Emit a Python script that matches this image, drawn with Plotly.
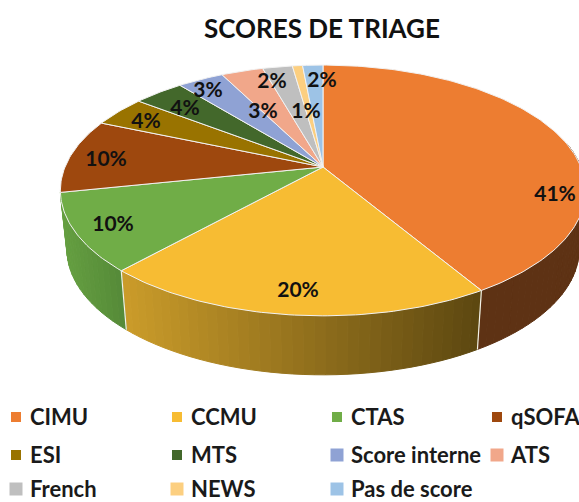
"""Scores de triage: 3D-look pie drawn with filled scatter traces."""

import numpy as np
import plotly.graph_objects as go

categories = ["CIMU", "CCMU", "CTAS", "qSOFA", "ESI", "MTS", "Score interne", "ATS", "French", "NEWS", "Pas de score"]
shares = [41.4, 20.4, 10.0, 9.6, 4.0, 3.7, 3.4, 3.1, 2.2, 0.75, 1.5]
colors = ["#ED7D31", "#F7BC33", "#70AD47", "#9E480E", "#997300", "#43682B", "#8FA2D4", "#F1A78A", "#BFBFBF", "#FCCF80", "#9DC3E6"]

# wall colour at the left and right end of each visible side
wall_left = {"CIMU": "#5E3214", "CCMU": "#CB9C2A", "CTAS": "#659F41"}
wall_right = {"CIMU": "#5E3214", "CCMU": "#5C4710", "CTAS": "#558A38"}

# label placement, legend grid
label_x = [555, 298, 113, 106, 146, 185, 208, 263, 272, 306, 322]
label_y = [193, 289, 223, 158, 120, 107, 89, 110, 80, 110, 79]
legend_x = [16, 177, 337, 497, 16, 177, 337, 497, 16, 177, 337]
legend_y = [417, 417, 417, 417, 455, 455, 455, 455, 489, 489, 489]
legend_size = [10, 10, 10, 10, 10, 10, 13, 13, 13, 13, 13]

CX, CY = 323, 167
A, B, K = 258, 121, 0.187
DEPTH = 59
TEXT_DROP = 2.5  # text traces sit a little high in Lato


def project(theta):
    # clockwise from the top, circle seen in perspective
    u, v = np.sin(theta), -np.cos(theta)
    s = 1 / (1 - K * v)
    return CX + A * u * s, CY + B * v * s


def drop(x, y):
    return CX + (x - CX) * 0.975, y + DEPTH


def mix(c1, c2, t):
    a = [int(c1[i:i + 2], 16) for i in (1, 3, 5)]
    b = [int(c2[i:i + 2], 16) for i in (1, 3, 5)]
    return "rgb(%d,%d,%d)" % tuple(round(p + (q - p) * t) for p, q in zip(a, b))


fig = go.Figure()
total = sum(shares)
edges = np.concatenate([[0], np.cumsum(shares)]) / total * 2 * np.pi

# side walls, only the front slices are visible
for name, start, end in zip(categories, edges[:-1], edges[1:]):
    if name not in wall_left:
        continue
    lo, hi = max(start, np.pi / 2 - 0.2), end
    steps = np.linspace(lo, hi, max(2, int((hi - lo) / np.radians(2)) + 1))
    x_ends = [project(t)[0] for t in steps]
    x_min, x_max = min(x_ends), max(x_ends)
    for t0, t1 in zip(steps[:-1], steps[1:]):
        x0, y0 = project(t0)
        x1, y1 = project(t1)
        x2, y2 = drop(x1, y1)
        x3, y3 = drop(x0, y0)
        shade = mix(wall_left[name], wall_right[name], ((x0 + x1) / 2 - x_min) / (x_max - x_min))
        fig.add_trace(go.Scatter(x=[x0, x1, x2, x3, x0], y=[y0, y1, y2, y3, y0], mode="lines",
                                 fill="toself", fillcolor=shade, line=dict(color=shade, width=1)))

# white seams between the visible walls
for t in edges[1:3]:
    x0, y0 = project(t)
    x1, y1 = drop(x0, y0)
    fig.add_trace(go.Scatter(x=[x0, x1], y=[y0, y1], mode="lines", line=dict(color="#F4F1E8", width=1.2)))

# top surface
for color, start, end in zip(colors, edges[:-1], edges[1:]):
    steps = np.linspace(start, end, max(3, int((end - start) / np.radians(1)) + 1))
    xs, ys = project(steps)
    fig.add_trace(go.Scatter(x=np.r_[CX, xs, CX], y=np.r_[CY, ys, CY], mode="lines", fill="toself",
                             fillcolor=color, line=dict(color="#F2F2F2", width=1)))

fig.add_trace(go.Scatter(
    x=label_x, y=[y + TEXT_DROP for y in label_y], mode="text", text=[f"{v:.0f}%" for v in shares],
    textfont=dict(family="Lato", size=21, color="#111111", weight="bold"),
))

# legend
fig.add_trace(go.Scatter(
    x=legend_x, y=legend_y, mode="markers",
    marker=dict(symbol="square", size=legend_size, color=colors, opacity=1, line=dict(width=0)),
))
fig.add_trace(go.Scatter(
    x=[x + 14 for x in legend_x], y=[y + TEXT_DROP for y in legend_y], mode="text", text=categories,
    textposition="middle right",
    textfont=dict(family="Lato", size=22, color="#1A1A1A", weight="bold"),
))

fig.add_annotation(text="<b>SCORES DE TRIAGE</b>", x=322, y=28, xref="x", yref="y", showarrow=False,
                   font=dict(family="Lato", size=26, color="#111111"))

fig.update_layout(
    width=579, height=502, margin=dict(l=0, r=0, t=0, b=0),
    paper_bgcolor="white", plot_bgcolor="white", showlegend=False,
    xaxis=dict(range=[0, 579], visible=False, fixedrange=True),
    yaxis=dict(range=[502, 0], visible=False, fixedrange=True),
)
# drop the browser's default body margin so the figure fills the window
fig.write_html("out.html", config=dict(displayModeBar=False),
               post_script="document.body.style.margin = '0'; document.body.style.overflow = 'hidden';")
